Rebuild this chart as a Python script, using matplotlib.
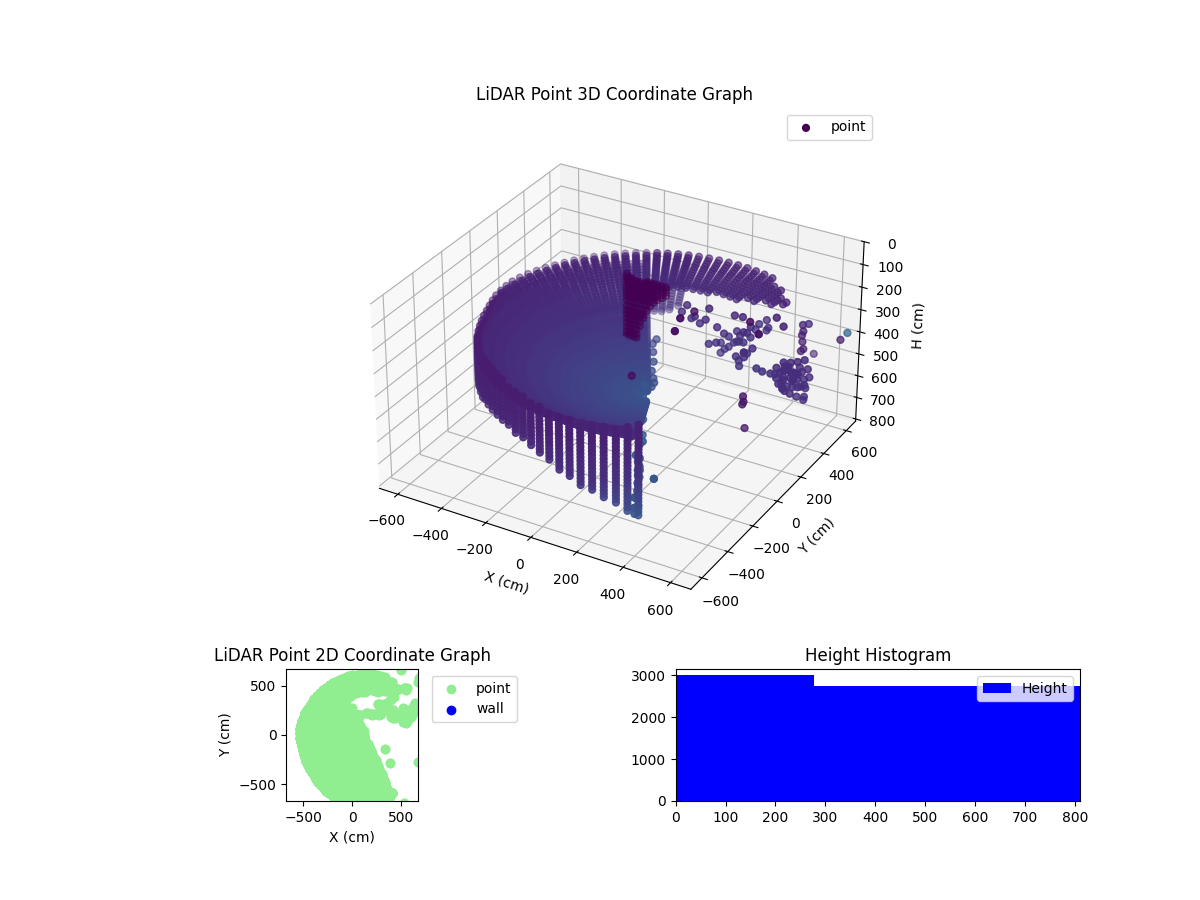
import numpy as np
import matplotlib
matplotlib.use("Agg")
import matplotlib.pyplot as plt
from matplotlib.gridspec import GridSpec

# scan centre
CENTER_X = 144
CENTER_Y = -55

# filled part of the scan: azimuth columns (deg) and rim radius of each (cm)
DOME_AZ = [120.0, 123.6, 127.2, 130.8, 134.4, 138.0, 141.6, 145.2, 148.8, 152.4,
           156.0, 159.6, 163.2, 166.8, 170.4, 174.0, 177.6, 181.2, 184.8, 188.4,
           192.0, 195.6, 199.2, 202.8, 206.4, 210.0, 213.6, 217.2, 220.8, 224.4,
           228.0, 231.6, 235.2, 238.8, 242.4, 246.0, 249.6, 253.2, 256.8, 260.4,
           264.0, 267.6, 271.2, 274.8, 278.4, 282.0, 285.6, 289.2, 292.8, 296.4]
RIM_R = [677, 677, 677, 677, 677, 677, 677, 677, 677, 677,
         680, 682, 684, 685, 685, 680, 675, 670, 662, 655,
         650, 648, 646, 645, 645, 645, 645, 645, 648, 650,
         652, 655, 658, 660, 662, 665, 668, 670, 672, 675,
         677, 677, 677, 677, 675, 668, 660, 640, 620, 600]
# first and last wall point of each column (cm)
WALL_TOP = [210, 210, 210, 210, 210, 210, 210, 210, 210, 210,
            210, 210, 210, 210, 210, 210, 210, 210, 210, 210,
            210, 210, 210, 210, 205, 200, 195, 190, 185, 180,
            175, 170, 165, 165, 165, 170, 175, 180, 185, 190,
            195, 200, 205, 210, 215, 220, 225, 230, 230, 230]
WALL_BOTTOM = [330, 330, 330, 335, 335, 340, 340, 345, 345, 350,
               350, 355, 355, 360, 360, 365, 365, 370, 370, 375,
               380, 385, 385, 385, 385, 385, 380, 375, 370, 365,
               360, 355, 350, 345, 345, 345, 350, 360, 370, 380,
               395, 415, 435, 455, 480, 505, 530, 560, 600, 640]
WALL_H = [170, 185, 195, 210, 225, 240, 255, 270, 285, 300, 315, 330, 345, 360, 375, 390, 405, 420, 435,
          450, 465, 480, 495, 510, 525, 540, 555, 570, 585, 600, 615, 630, 645]
WALL_C = [0.08, 0.08, 0.08, 0.08, 0.09, 0.09, 0.09, 0.09, 0.09, 0.10, 0.10, 0.10, 0.11, 0.11, 0.12, 0.12, 0.13, 0.13, 0.14,
          0.14, 0.15, 0.16, 0.17, 0.18, 0.19, 0.20, 0.21, 0.22, 0.23, 0.24, 0.25, 0.26, 0.27]

# in-between columns that only hold bowl rings
INNER_AZ = [121.8, 125.4, 129.0, 132.6, 136.2, 139.8, 143.4, 147.0, 150.6, 154.2,
            157.8, 161.4, 165.0, 168.6, 172.2, 175.8, 179.4, 183.0, 186.6, 190.2,
            193.8, 197.4, 201.0, 204.6, 208.2, 211.8, 215.4, 219.0, 222.6, 226.2,
            229.8, 233.4, 237.0, 240.6, 244.2, 247.8, 251.4, 255.0, 258.6, 262.2,
            265.8, 269.4, 273.0, 276.6, 280.2, 283.8, 287.4, 291.0]
INNER_MAX_R = 640

# bowl rings inside the wall
RING_R = [670, 660, 650, 640, 630, 620, 610, 600, 590, 580, 570, 560, 550, 540, 530, 520, 510, 500, 490, 480,
          470, 460, 450, 440, 430, 420, 410, 400, 390, 380, 370, 360, 350, 340, 330, 320, 310, 300, 290, 280,
          270, 260, 250, 240, 230, 220, 210, 200, 190, 180, 170, 160, 150, 140, 130, 120, 110, 100, 90, 80,
          70, 60, 50, 40]
RING_H = [218, 225, 232, 240, 248, 255, 262, 270, 277, 285, 292, 300, 307, 315, 322, 330, 337, 345, 350, 355,
          360, 365, 370, 375, 379, 383, 387, 390, 394, 398, 402, 405, 409, 412, 416, 420, 422, 425, 427, 430,
          432, 435, 437, 440, 442, 445, 447, 450, 452, 455, 457, 460, 461, 462, 463, 465, 466, 467, 468, 470,
          471, 472, 473, 475]
RING_C = [0.10, 0.10, 0.10, 0.10, 0.11, 0.11, 0.11, 0.11, 0.12, 0.12, 0.12, 0.12, 0.13, 0.13, 0.13, 0.13, 0.14, 0.14, 0.14, 0.14,
          0.145, 0.15, 0.15, 0.15, 0.155, 0.155, 0.16, 0.16, 0.165, 0.17, 0.17, 0.17, 0.175, 0.18, 0.18, 0.18, 0.185, 0.19, 0.19, 0.19,
          0.195, 0.20, 0.20, 0.20, 0.205, 0.21, 0.21, 0.21, 0.215, 0.22, 0.22, 0.22, 0.225, 0.23, 0.23, 0.23, 0.235, 0.24, 0.24, 0.24,
          0.245, 0.25, 0.25, 0.25]
# outer rings overlap more strongly in the picture
RING_DOUBLE_R = 480

# columns just past the wedge edge keep the bowl rings down to a minimum radius
NEAR_AZ = [116.4, 112.8, 109.2, 105.6]
NEAR_MIN_R = [470, 470, 480, 500]

# upper right rim, only a part of each column came back
UPPER_AZ = [116.4, 112.8, 109.2, 105.6, 102.0, 98.4, 94.8, 91.2, 87.6, 84.0, 80.4,
            76.8, 73.2, 69.6, 66.0, 62.4, 58.8]
UPPER_MIN_R = [470, 480, 490, 490, 490, 490, 490, 490, 500, 500, 500,
               500, 530, 530, 560, 560, 590]
UPPER_MAX_R = [677, 677, 677, 677, 677, 677, 677, 677, 677, 677, 677,
               677, 677, 650, 650, 620, 620]
UPPER_R = [677, 662, 647, 632, 617, 602, 587, 572, 557, 542, 527, 512, 497, 482, 470]
UPPER_H = [210, 215, 220, 224, 228, 232, 236, 240, 244, 248, 252, 255, 258, 261, 265]
UPPER_C = [0.09, 0.09, 0.10, 0.10, 0.10, 0.10, 0.11, 0.11, 0.11, 0.11, 0.12, 0.12, 0.12, 0.12, 0.12]

# dark cluster near the back of the bowl, columns at y = 200
DARK_COL_X = [-95, -85, -75, -60, -50, -35, -20, -5, 10, 25, 40, 60, 80]
DARK_TOP = [124, 128, 132, 140, 146, 146, 140, 137, 137, 137, 137, 137, 137]
DARK_BOTTOM = [410, 410, 405, 400, 396, 340, 300, 265, 240, 220, 205, 190, 178]
DARK_LEVELS = [124, 137, 146, 160, 175, 190, 205, 220, 240, 265, 285, 300, 320, 340,
               360, 380, 396, 410]
DARK_Y = 200

# loose returns in the middle of the open side
LOOSE_X = [140, 160, 185, 205, 225, 250, 270, 290, 310, 260, 295, 350, 390, 520, 560,
           260, 260, 300, 300, 330, 330, 400, 400, 420, 420, 400, 400, 415, 415,
           280, 320, 350, 380, 410, 390, 430,
           400, 430, 460, 420, 410, 440, 200]
LOOSE_Y = [220, 225, 215, 205, 210, 210, 200, 230, 250, 220, 215, 260, 250, 280, 260,
           320, 320, 310, 310, 320, 320, 240, 240, 260, 260, 370, 370, 405, 405,
           315, 315, 300, 250, 250, 360, 390,
           180, 190, 200, 170, 185, 195, 210]
LOOSE_H = [237, 205, 251, 233, 260, 237, 178, 269, 301, 346, 328, 215, 206, 187, 205,
           435, 390, 392, 346, 365, 319, 265, 310, 246, 292, 292, 337, 287, 333,
           410, 370, 350, 290, 270, 315, 310,
           342, 342, 300, 374, 360, 325, 215]
LOOSE_C = [0.13, 0.13, 0.13, 0.13, 0.13, 0.13, 0.12, 0.13, 0.13, 0.14, 0.14, 0.11, 0.11, 0.10, 0.10,
           0.15, 0.14, 0.15, 0.14, 0.15, 0.14, 0.14, 0.15, 0.14, 0.15, 0.14, 0.15, 0.13, 0.14,
           0.15, 0.15, 0.15, 0.14, 0.14, 0.14, 0.14,
           0.14, 0.14, 0.14, 0.15, 0.15, 0.15, 0.04]

# fan on the far right
FAN_X = [515, 545, 565, 575, 575, 595, 595, 595, 595, 615, 615, 615, 625, 625, 625, 635, 635, 635,
         585, 605, 620, 630, 640, 605, 620, 630, 575, 585, 600, 610, 625, 630, 637, 643, 615, 595,
         590, 600, 610, 620, 630, 640, 600, 615, 625, 635]
FAN_Y = [130, 120, 150, 180, 180, 200, 200, 200, 200, 220, 220, 220, 260, 260, 260, 300, 300, 300,
         190, 210, 240, 280, 320, 200, 230, 270, 170, 180, 190, 215, 250, 290, 310, 330, 240, 210,
         195, 205, 215, 235, 255, 295, 185, 225, 265, 305]
FAN_H = [337, 337, 355, 342, 387, 323, 360, 400, 437, 328, 396, 465, 342, 419, 496, 351, 437, 528,
         365, 430, 380, 460, 400, 350, 440, 370, 365, 410, 380, 360, 390, 400, 480, 440, 420, 345,
         415, 450, 345, 410, 450, 510, 430, 375, 400, 465]
FAN_C = [0.16, 0.16, 0.15, 0.13, 0.14, 0.13, 0.13, 0.14, 0.14, 0.13, 0.13, 0.14, 0.12, 0.13, 0.14, 0.12, 0.13, 0.14,
         0.13, 0.14, 0.13, 0.13, 0.13, 0.13, 0.13, 0.13, 0.14, 0.14, 0.13, 0.13, 0.13, 0.13, 0.14, 0.13, 0.13, 0.13,
         0.14, 0.14, 0.13, 0.13, 0.14, 0.14, 0.14, 0.13, 0.13, 0.14]

# dark column and outliers on the far right
EDGE_X = [540, 545, 535, 540, 550, 530, 560, 680, 670, 500]
EDGE_Y = [470, 465, 475, 470, 460, 480, 480, 580, 540, 660]
EDGE_H = [305, 330, 355, 380, 405, 430, 300, 355, 369, 540]
EDGE_C = [0.09, 0.09, 0.09, 0.09, 0.09, 0.09, 0.14, 0.33, 0.10, 0.10]

# dark returns: isolated ones on the right, short ones near the wedge edge
SPOT_X = [435, 440, 430, 445, 330, 390, 670, 445, 490, 530, 100, 100, 100, 100, 100, 100]
SPOT_Y = [180, 175, 185, 180, -140, -290, -280, 205, 190, -690, -100, -100, -100, -100, -100, -100]
SPOT_H = [510, 530, 550, 650, 40, 5, 20, 190, 224, 380, 374, 520, 575, 600, 625, 645]
SPOT_C = [0.06, 0.06, 0.06, 0.07, 0.05, 0.05, 0.14, 0.04, 0.04, 0.27, 0.04, 0.04, 0.04, 0.04, 0.04, 0.04]

# blue returns on the wedge edge and the tails under it
BLUE_X = [150, 155, 145, 160, 190, 195, 185, 200, 250, 255, 245, 260, 300, 305, 295, 330, 335, 325,
          140, 170, 215, 230, 265, 275, 240, 285, 310, 320, 175, 205, 225, 250, 270, 180]
BLUE_Y = [-100, -110, -90, -120, -200, -210, -190, -220, -300, -310, -290, -320, -400, -410, -390, -480, -490, -470,
          -70, -150, -240, -280, -340, -360, -260, -380, -440, -460, -170, -230, -270, -330, -350, -180]
BLUE_H = [445, 500, 560, 610, 500, 560, 610, 650, 590, 620, 650, 660, 640, 690, 740, 640, 680, 720,
          420, 530, 570, 590, 640, 660, 540, 680, 670, 700, 470, 530, 630, 560, 610, 590]
BLUE_C = [0.27, 0.28, 0.29, 0.30, 0.28, 0.29, 0.30, 0.30, 0.29, 0.29, 0.30, 0.30, 0.27, 0.28, 0.29, 0.27, 0.28, 0.28,
          0.27, 0.28, 0.29, 0.29, 0.30, 0.30, 0.28, 0.29, 0.28, 0.28, 0.28, 0.29, 0.30, 0.29, 0.30, 0.29]

# points that bridge the wedge edge near the middle of the scan
CORE_X = [120, 105, 75, 55, 25, -5, 95, 115, 65, 0, 105, 125]
CORE_Y = [40, 60, 100, 150, 200, 280, 0, -20, 60, 240, 20, 10]
CORE_H = [470, 465, 460, 450, 440, 430, 475, 478, 462, 430, 470, 472]
CORE_C = [0.24, 0.24, 0.23, 0.23, 0.22, 0.22, 0.25, 0.25, 0.24, 0.22, 0.24, 0.25]

# height histogram
HIST_EDGES = [0, 277, 543, 810]
HIST_COUNTS = [3000, 2740, 2740]

XTICKS = [-600, -400, -200, 0, 200, 400, 600]
HTICKS = [0, 100, 200, 300, 400, 500, 600, 700, 800]


def build_points():
    xs, ys, hs, cs = [], [], [], []

    def add_xy(px, py, ph, pc):
        xs.append(px)
        ys.append(py)
        hs.append(ph)
        cs.append(pc)

    def add(az, r, ph, pc):
        add_xy(CENTER_X + r * np.cos(np.radians(az)),
               CENTER_Y + r * np.sin(np.radians(az)), ph, pc)

    for col_x, top, bottom in zip(DARK_COL_X, DARK_TOP, DARK_BOTTOM):
        for level in DARK_LEVELS:
            if top <= level <= bottom:
                add_xy(col_x, DARK_Y, level, 0.0)

    for az, rim, top, bottom in zip(DOME_AZ, RIM_R, WALL_TOP, WALL_BOTTOM):
        for ph, pc in zip(WALL_H, WALL_C):
            if top <= ph <= bottom:
                add(az, rim, ph, pc)
        if az < 296:
            for r, ph, pc in zip(RING_R, RING_H, RING_C):
                if r < rim:
                    add(az, r, ph, pc)
                    if r >= RING_DOUBLE_R:
                        add(az, r, ph, pc)

    for az in INNER_AZ:
        for r, ph, pc in zip(RING_R, RING_H, RING_C):
            if r <= INNER_MAX_R:
                add(az, r, ph, pc)

    for az, min_r in zip(NEAR_AZ, NEAR_MIN_R):
        for r, ph, pc in zip(RING_R, RING_H, RING_C):
            if r >= min_r:
                add(az, r, ph, pc)

    for az, min_r, max_r in zip(UPPER_AZ, UPPER_MIN_R, UPPER_MAX_R):
        for r, ph, pc in zip(UPPER_R, UPPER_H, UPPER_C):
            if min_r <= r <= max_r:
                add(az, r, ph, pc)
                add(az, r, ph, pc)

    groups = [(LOOSE_X, LOOSE_Y, LOOSE_H, LOOSE_C), (FAN_X, FAN_Y, FAN_H, FAN_C),
              (EDGE_X, EDGE_Y, EDGE_H, EDGE_C), (SPOT_X, SPOT_Y, SPOT_H, SPOT_C),
              (BLUE_X, BLUE_Y, BLUE_H, BLUE_C), (CORE_X, CORE_Y, CORE_H, CORE_C)]
    for gx, gy, gh, gc in groups:
        for px, py, ph, pc in zip(gx, gy, gh, gc):
            add_xy(px, py, ph, pc)
            add_xy(px, py, ph, pc)

    return np.array(xs), np.array(ys), np.array(hs), np.array(cs)


x, y, h, c = build_points()

fig = plt.figure(figsize=(12, 9))
gs = GridSpec(2, 2, figure=fig, height_ratios=[4, 1], wspace=0.3, hspace=0.1)

ax3d = fig.add_subplot(gs[0, :], projection="3d")
ax3d.scatter(x, y, h, c=c, s=24, cmap="viridis", vmin=0, vmax=1, label="point")
ax3d.set_xlim(-685, 685)
ax3d.set_ylim(-685, 685)
ax3d.set_zlim(810, 0)
ax3d.set_aspect("equal")
ax3d.set_xticks(XTICKS)
ax3d.set_yticks(XTICKS)
ax3d.set_zticks(HTICKS)
ax3d.set_xlabel("X (cm)")
ax3d.set_ylabel("Y (cm)")
ax3d.set_zlabel("H (cm)")
ax3d.set_title("LiDAR Point 3D Coordinate Graph")
ax3d.legend()

ax2d = fig.add_subplot(gs[1, 0])
ax2d.scatter(x, y, c="lightgreen", label="point")
ax2d.scatter([], [], c="blue", label="wall")
ax2d.set_xlim(-673, 673)
ax2d.set_ylim(-673, 673)
ax2d.set_aspect("equal")
ax2d.set_xlabel("X (cm)")
ax2d.set_ylabel("Y (cm)")
ax2d.set_title("LiDAR Point 2D Coordinate Graph")
ax2d.legend(loc="upper left", bbox_to_anchor=(1.05, 1))

ax_hist = fig.add_subplot(gs[1, 1])
ax_hist.bar(HIST_EDGES[:-1], HIST_COUNTS, width=np.diff(HIST_EDGES), align="edge",
            color="blue", label="Height")
ax_hist.set_xlim(0, 810)
ax_hist.set_ylim(0, 3150)
ax_hist.set_title("Height Histogram")
ax_hist.legend(loc="upper right")

plt.savefig("out.png", dpi=100)
